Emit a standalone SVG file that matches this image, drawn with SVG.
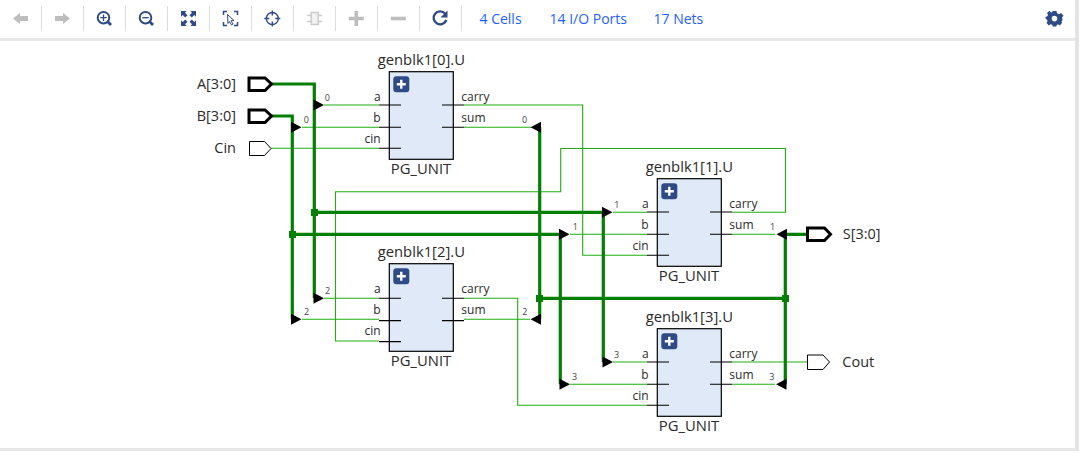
<svg xmlns="http://www.w3.org/2000/svg" width="1082" height="460" viewBox="0 0 1082 460">
<style>
text{font-family:"Open Sans","Noto Sans","Liberation Sans",sans-serif;fill:#2a2a2a}
.t{font-size:14.8px;text-anchor:middle}
.p{font-size:12px}
.pt{font-size:14.5px}
.n{font-size:9px;fill:#444}
.lnk{font-size:14px;fill:#1f5fff}
.box{fill:#dfe9f7;stroke:#000;stroke-width:1.2}
.pin{stroke:#000;stroke-width:1.1;fill:none}
.thin{stroke:#1eb00e;stroke-width:1.1;fill:none}
.thick{stroke:#047f04;stroke-width:3.2;fill:none}
.ar{fill:#000}
.j{fill:#047f04}
.sep{stroke:#dcdcdc;stroke-width:1}
.on{fill:#2f4b85}
.off{fill:#bdbdbd}
.ol{fill:none;stroke:#2f4b85;stroke-width:2}
</style>
<defs>
<polygon id="ar" class="ar" points="0,-5.5 10.5,0 0,5.5"/>
<polygon id="al" class="ar" points="0,-5.5 -10.5,0 0,5.5"/>
<g id="plus"><rect x="-8" y="-8" width="16" height="16" rx="3" fill="#2f4b85"/><path d="M-4.5 0H4.5M0 -4.5V4.5" stroke="#fff" stroke-width="2.4"/></g>
<g id="pins" class="pin"><path d="M-10.3 33.3H11.7M-10.3 55.6H11.7M-10.3 76.6H11.7M52.7 33.3H74.7M52.7 55.6H74.7"/></g>
</defs>
<rect width="1082" height="460" fill="#fff"/>
<g id="toolbar">
<rect x="0" y="38" width="1075" height="3" fill="#e8e8e8"/>
<rect x="1075" y="0" width="4" height="451" fill="#e4e4e4"/>
<rect x="0" y="448" width="1075" height="3" fill="#e8e8e8"/>
<path class="sep" d="M41.500 6V31M83.500 6V31M125.500 6V31M167.500 6V31M209.500 6V31M251.500 6V31M293.500 6V31M335.500 6V31M377.500 6V31M419.500 6V31M461.500 6V31"/>
<polygon class="off" points="13,18.500 20,13 20,16 28,16 28,21 20,21 20,24"/>
<polygon class="off" points="70,18.500 63,13 63,16 55,16 55,21 63,21 63,24"/>
<circle class="ol" cx="103.500" cy="17.700" r="5.800"/><path d="M107.800 21.800L111 25" stroke="#2f4b85" stroke-width="2.800"/><path d="M100.300 17.700H106.700M103.500 14.500V20.900" stroke="#2f4b85" stroke-width="1.300"/>
<circle class="ol" cx="145.500" cy="17.700" r="5.800"/><path d="M149.800 21.800L153 25" stroke="#2f4b85" stroke-width="2.800"/><path d="M142.300 17.700H148.700" stroke="#2f4b85" stroke-width="1.300"/>
<g transform="translate(188.500 18.500)"><path class="on" id="c" d="M-7.500 -7.500H-1.800L-3.500 -5.800L-1 -3.300L-3.300 -1L-5.800 -3.500L-7.500 -1.800Z"/><path class="on" transform="scale(-1 1)" d="M-7.500 -7.500H-1.800L-3.500 -5.800L-1 -3.300L-3.300 -1L-5.800 -3.500L-7.500 -1.800Z"/><path class="on" transform="scale(1 -1)" d="M-7.500 -7.500H-1.800L-3.500 -5.800L-1 -3.300L-3.300 -1L-5.800 -3.500L-7.500 -1.800Z"/><path class="on" transform="scale(-1 -1)" d="M-7.500 -7.500H-1.800L-3.500 -5.800L-1 -3.300L-3.300 -1L-5.800 -3.500L-7.500 -1.800Z"/></g>
<g transform="translate(230.500 18.500)"><path d="M-7 -3.500V-7H-3.500M3.500 -7H7V-3.500M-7 3.500V7H-3.500M3.500 7H7V3.500" fill="none" stroke="#2f4b85" stroke-width="1.500"/><path d="M-3 -4L3.500 2L0.500 2.300L2.500 5.500L1 6.500L-1 3L-2.500 5Z" fill="#fff" stroke="#2f4b85" stroke-width="1"/></g>
<g transform="translate(272.300 18.500)"><circle r="6" fill="none" stroke="#2f4b85" stroke-width="1.400"/><path d="M0 -8V-3M0 3V8M-8 0H-3M3 0H8" stroke="#2f4b85" stroke-width="1.400"/></g>
<g transform="translate(314.700 18.500)"><rect x="-3.500" y="-6" width="7" height="12" fill="#f2f2f2" stroke="#c9c9c9" stroke-width="1.400"/><path d="M-7.500 -3H-3.500M-7.500 3H-3.500M3.500 -3H7.500M3.500 3H7.500" stroke="#c9c9c9" stroke-width="1.400"/></g>
<path d="M348.800 18.500H363.800M356.300 11V26" stroke="#bdbdbd" stroke-width="3.600"/>
<path d="M390.800 18.500H405.800" stroke="#bdbdbd" stroke-width="3.600"/>
<path d="M445 13.500A6.500 6.500 0 1 0 446.300 20" fill="none" stroke="#2f4b85" stroke-width="2.400"/><polygon class="on" points="447.500,10.500 447.500,17.500 440.500,17.500"/>
<text class="lnk" x="479.500" y="24">4 Cells</text>
<text class="lnk" x="549.500" y="24">14 I/O Ports</text>
<text class="lnk" x="653.500" y="24">17 Nets</text>
<path class="on" fill-rule="evenodd" d="M1052.500 11H1056.500L1057 13.300L1059 14.200L1061 13L1063.500 15.800L1062 17.500L1062.500 19.500L1062.500 20L1061.500 21.500L1062 23L1059.800 25.500L1058 24.300L1056.800 25L1056.300 26.500H1052.700L1052.200 24.800L1050.500 24.200L1048.800 25.500L1046.500 23L1047.500 21.200L1047 19.500L1045.500 18.800V17L1047.300 16.300L1048 14.800L1047 13L1049.500 10.800L1051 12.500L1052.300 12.200ZM1054.500 15.800A2.800 2.800 0 1 0 1054.501 21.400A2.800 2.800 0 1 0 1054.500 15.800Z"/>
</g>
<g id="connectors">
<g class="thin">
<path d="M324 105H379M302 127.300H379M271 148.300H379"/>
<path d="M464 105H582.700V255.300H647"/>
<path d="M464 127.300H531"/>
<path d="M613 212.300H647M570 234.300H647"/>
<path d="M732 212.300H785.500V148.500H560.700V191.700H335.500V341H379"/>
<path d="M732 234.300H775"/>
<path d="M324 298.300H379M302 319.300H379"/>
<path d="M464 298.300H517.700V405.300H647"/>
<path d="M464 319.300H530"/>
<path d="M613 362H647M570 384.300H647"/>
<path d="M732 362H807.500"/>
<path d="M732 384.300H775"/>
</g>
<g class="thick">
<path d="M272 84H314.300V298.300"/>
<path d="M272 116H292.300V319.300"/>
<path d="M314.300 212.300H603.300V362"/>
<path d="M292.300 234.300H560.300V384.300"/>
<path d="M539.700 127.300V319.300"/>
<path d="M539.700 298.300H785.300"/>
<path d="M785.300 384.300V234.300H807"/>
</g>
<rect class="j" x="311" y="209" width="7" height="7"/>
<rect class="j" x="289" y="231" width="7" height="7"/>
<rect class="j" x="536" y="295" width="7" height="7"/>
<rect class="j" x="782" y="295" width="7" height="7"/>
<use href="#ar" x="313.500" y="105"/>
<use href="#ar" x="291" y="127.300"/>
<use href="#al" x="541" y="127.300"/>
<use href="#ar" x="602" y="212.300"/>
<use href="#ar" x="559" y="234.300"/>
<use href="#al" x="787" y="234.300"/>
<use href="#ar" x="313.500" y="298.300"/>
<use href="#ar" x="291" y="319.300"/>
<use href="#al" x="541" y="319.300"/>
<use href="#ar" x="602.500" y="362"/>
<use href="#ar" x="559.500" y="384.300"/>
<use href="#al" x="786.500" y="384.300"/>
<text class="n" x="324.700" y="101">0</text>
<text class="n" x="303.700" y="122.700">0</text>
<text class="n" x="522" y="122.700">0</text>
<text class="n" x="614.300" y="208">1</text>
<text class="n" x="572.700" y="230">1</text>
<text class="n" x="770" y="230">1</text>
<text class="n" x="325" y="294">2</text>
<text class="n" x="304" y="315">2</text>
<text class="n" x="522.300" y="315">2</text>
<text class="n" x="614" y="358">3</text>
<text class="n" x="572" y="380">3</text>
<text class="n" x="769.300" y="380">3</text>
</g>
<g id="port-A"><polygon points="249,78 265,78 271.500,84 265,90.500 249,90.500" fill="#fff" stroke="#000" stroke-width="3"/><text class="pt" x="236" y="89.300" text-anchor="end">A[3:0]</text></g>
<g id="port-B"><polygon points="249,110 265,110 271.500,116 265,122.500 249,122.500" fill="#fff" stroke="#000" stroke-width="3"/><text class="pt" x="236" y="121.300" text-anchor="end">B[3:0]</text></g>
<g id="port-Cin"><polygon points="249.500,141.500 264.500,141.500 271,148.500 264.500,155.500 249.500,155.500" fill="#fff" stroke="#000" stroke-width="1"/><text class="pt" x="236" y="153.300" text-anchor="end">Cin</text></g>
<g id="port-S"><polygon points="807.500,228 824.500,228 830.500,234.300 824.500,240.500 807.500,240.500" fill="#fff" stroke="#000" stroke-width="3"/><text class="pt" x="842.700" y="239.300">S[3:0]</text></g>
<g id="port-Cout"><polygon points="807.500,355 823,355 829.500,362 823,369.500 807.500,369.500" fill="#fff" stroke="#000" stroke-width="1"/><text class="pt" x="842.300" y="367.300">Cout</text></g>
<g id="genblk1-0" transform="translate(389.300 71.700)">
<rect class="box" width="64" height="87.600"/><use href="#pins"/><use href="#plus" x="12" y="12.500"/>
<text class="t" x="32" y="-6.700">genblk1[0].U</text><text class="t" x="31.700" y="102.300">PG_UNIT</text>
<text class="p" x="-8.700" y="29.300" text-anchor="end">a</text><text class="p" x="-8.700" y="50" text-anchor="end">b</text><text class="p" x="-8.700" y="71" text-anchor="end">cin</text>
<text class="p" x="72" y="29.300">carry</text><text class="p" x="72" y="50">sum</text>
</g>
<g id="genblk1-1" transform="translate(657.300 178.700)">
<rect class="box" width="64" height="87.600"/><use href="#pins"/><use href="#plus" x="12" y="12.500"/>
<text class="t" x="32" y="-6.700">genblk1[1].U</text><text class="t" x="31.700" y="102.300">PG_UNIT</text>
<text class="p" x="-8.700" y="29.300" text-anchor="end">a</text><text class="p" x="-8.700" y="50" text-anchor="end">b</text><text class="p" x="-8.700" y="71" text-anchor="end">cin</text>
<text class="p" x="72" y="29.300">carry</text><text class="p" x="72" y="50">sum</text>
</g>
<g id="genblk1-2" transform="translate(389.300 263.700)">
<rect class="box" width="64" height="87.600"/><use href="#pins" y="1.300"/><use href="#plus" x="12" y="12.500"/>
<text class="t" x="32" y="-6.700">genblk1[2].U</text><text class="t" x="31.700" y="102.300">PG_UNIT</text>
<text class="p" x="-8.700" y="29.300" text-anchor="end">a</text><text class="p" x="-8.700" y="50" text-anchor="end">b</text><text class="p" x="-8.700" y="71.500" text-anchor="end">cin</text>
<text class="p" x="72" y="29.300">carry</text><text class="p" x="72" y="50">sum</text>
</g>
<g id="genblk1-3" transform="translate(657.300 328.700)">
<rect class="box" width="64" height="87.600"/><use href="#pins"/><use href="#plus" x="12" y="12.500"/>
<text class="t" x="32" y="-6.700">genblk1[3].U</text><text class="t" x="31.700" y="102.300">PG_UNIT</text>
<text class="p" x="-8.700" y="29.300" text-anchor="end">a</text><text class="p" x="-8.700" y="50" text-anchor="end">b</text><text class="p" x="-8.700" y="71" text-anchor="end">cin</text>
<text class="p" x="72" y="29.300">carry</text><text class="p" x="72" y="50">sum</text>
</g>
</svg>
